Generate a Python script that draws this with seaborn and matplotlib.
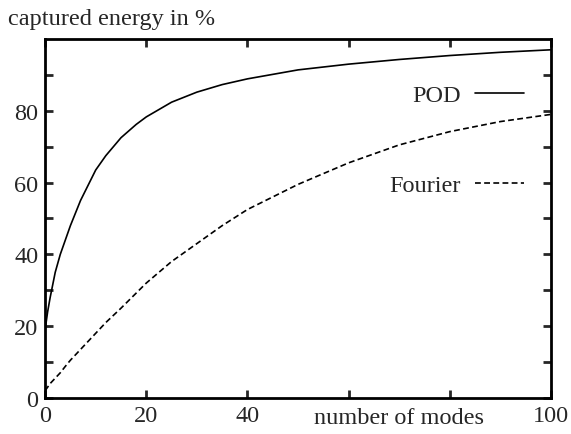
"""POD vs Fourier captured energy."""

import matplotlib
matplotlib.use("Agg")
import matplotlib.pyplot as plt
import seaborn as sns
import pandas as pd

# data
modes = [0, 0.5, 1, 2, 3, 4, 5, 7, 10, 12, 15, 18, 20, 25, 30, 35, 40, 50, 60, 70, 80, 90, 100]
pod = [19, 24, 28, 35, 40, 44, 48, 55, 63.5, 67.5, 72.5, 76.2, 78.3, 82.4, 85.2, 87.3, 88.9,
       91.4, 93, 94.3, 95.4, 96.3, 97]
fourier = [2, 3, 4, 5.5, 7, 8.8, 10.5, 13.5, 18, 21, 25, 29.2, 32, 38, 43, 48, 52.5,
           59.5, 65.5, 70.5, 74.2, 77, 79]

xticks = [0, 20, 40, 60, 80, 100]
xticklabels = ["0", "20", "40", "", "", "100"]
yticks = [0, 20, 40, 60, 80]

sns.set_style("ticks")
plt.rcParams["font.family"] = ["Liberation Serif", "DejaVu Serif"]

df = pd.DataFrame({"modes": modes, "POD": pod, "Fourier": fourier})
long = df.melt(id_vars="modes", var_name="method", value_name="energy")

fig, ax = plt.subplots(figsize=(5.71, 4.35), dpi=100)
sns.lineplot(data=long, x="modes", y="energy", style="method",
             dashes={"POD": "", "Fourier": (3.5, 2)}, color="black",
             linewidth=1.2, ax=ax, legend=False)

ax.plot([], [], color="black", lw=1.2, label="POD")
ax.plot([], [], color="black", lw=1.2, ls=(0, (3.5, 2)), label="Fourier")
ax.legend(loc="upper right", bbox_to_anchor=(0.99, 0.935), frameon=False,
          markerfirst=False, fontsize=17.5, handlelength=2.0,
          labelspacing=2.8, handletextpad=0.6)

ax.set_xlim(0, 100)
ax.set_ylim(0, 100)
ax.set_xticks(xticks)
ax.set_xticklabels(xticklabels)
ax.set_yticks(yticks)
ax.set_yticks(range(10, 100, 10), minor=True)
ax.tick_params(which="both", direction="in", top=True, right=True,
               length=6, width=2, labelsize=17.5, pad=5)

for s in ax.spines.values():
    s.set_linewidth(2)
    s.set_color("black")

ax.set_xlabel("")
ax.set_ylabel("")
ax.text(0.70, -0.025, "number of modes", transform=ax.transAxes,
        ha="center", va="top", fontsize=17.5)
fig.text(0.014, 0.955, "captured energy in %", ha="left", va="center",
         fontsize=17.5)

fig.subplots_adjust(left=0.079, right=0.965, bottom=0.083, top=0.908)
fig.savefig("out.png", dpi=100)
